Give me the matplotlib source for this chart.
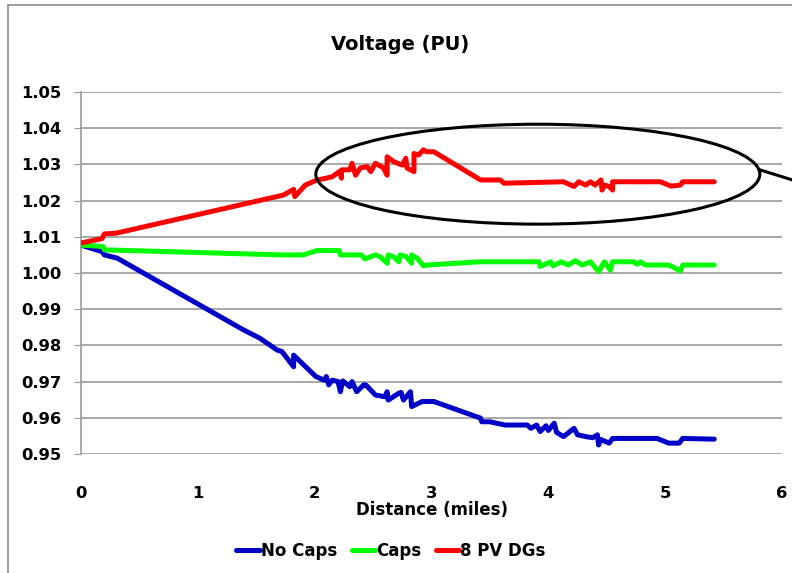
import matplotlib
matplotlib.use("Agg")
import matplotlib.pyplot as plt
from matplotlib.patches import Ellipse
from matplotlib.lines import Line2D

plt.rcParams['font.family'] = ['DejaVu Sans']
plt.rcParams['font.weight'] = 'bold'

# data (distance in miles, voltage in pu)
nocaps_x = [0, 0.18, 0.2, 0.31, 1.39, 1.53, 1.68, 1.72, 1.82, 1.82, 2.01, 2.08, 2.10, 2.12, 2.15,
            2.20, 2.22, 2.24, 2.30, 2.32, 2.36, 2.42, 2.44, 2.52, 2.60, 2.62, 2.63, 2.72, 2.74,
            2.76, 2.82, 2.83, 2.92, 3.02, 3.42, 3.43, 3.50, 3.63, 3.82, 3.85, 3.90, 3.93, 3.98,
            4.00, 4.05, 4.07, 4.13, 4.22, 4.25, 4.32, 4.38, 4.42, 4.43, 4.45, 4.52, 4.55, 4.93,
            5.03, 5.12, 5.15, 5.42]
nocaps_y = [1.0077, 1.0059, 1.0050, 1.0041, 0.9843, 0.9820, 0.9787, 0.9783, 0.9741, 0.9773, 0.9714,
            0.9704, 0.9714, 0.9691, 0.9704, 0.9700, 0.9672, 0.9702, 0.9686, 0.9700, 0.9672, 0.9691,
            0.9690, 0.9663, 0.9658, 0.9672, 0.9649, 0.9668, 0.9670, 0.9649, 0.9672, 0.9631, 0.9645,
            0.9645, 0.9599, 0.9589, 0.9589, 0.9580, 0.9580, 0.9571, 0.9580, 0.9562, 0.9578, 0.9565,
            0.9585, 0.9560, 0.9548, 0.9571, 0.9553, 0.9548, 0.9545, 0.9553, 0.9525, 0.9540, 0.9530,
            0.9543, 0.9543, 0.9530, 0.9530, 0.9543, 0.9541]

caps_x = [0, 0.19, 0.2, 1.71, 1.90, 2.02, 2.21, 2.22, 2.40, 2.43, 2.52, 2.56, 2.62, 2.63, 2.68,
          2.72, 2.73, 2.78, 2.83, 2.83, 2.88, 2.93, 2.96, 3.42, 3.92, 3.93, 4.02, 4.04, 4.11,
          4.17, 4.23, 4.29, 4.36, 4.43, 4.48, 4.53, 4.55, 4.73, 4.76, 4.79, 4.83, 5.03, 5.13,
          5.15, 5.42]
caps_y = [1.0077, 1.0073, 1.0064, 1.0050, 1.0050, 1.0062, 1.0062, 1.0050, 1.0050, 1.0039, 1.0050,
          1.0045, 1.0027, 1.0050, 1.0044, 1.0031, 1.0050, 1.0046, 1.0027, 1.0050, 1.0040, 1.0020,
          1.0022, 1.0031, 1.0031, 1.0018, 1.0031, 1.0020, 1.0031, 1.0022, 1.0034, 1.0022, 1.0031,
          1.0004, 1.0031, 1.0008, 1.0031, 1.0031, 1.0024, 1.0031, 1.0022, 1.0022, 1.0006, 1.0022,
          1.0022]

pv_x = [0, 0.18, 0.2, 0.3, 1.62, 1.73, 1.82, 1.83, 1.92, 2.02, 2.10, 2.15, 2.21, 2.23, 2.23, 2.30,
        2.32, 2.35, 2.39, 2.45, 2.48, 2.52, 2.59, 2.62, 2.62, 2.68, 2.75, 2.78, 2.79, 2.85, 2.85,
        2.89, 2.93, 2.96, 3.02, 3.42, 3.59, 3.62, 4.13, 4.22, 4.26, 4.32, 4.36, 4.40, 4.45, 4.46,
        4.48, 4.52, 4.55, 4.55, 4.96, 5.05, 5.13, 5.15, 5.42]
pv_y = [1.0083, 1.0095, 1.0108, 1.0110, 1.0207, 1.0215, 1.0231, 1.0211, 1.0243, 1.0257, 1.0262,
        1.0266, 1.0280, 1.0262, 1.0285, 1.0285, 1.0303, 1.0270, 1.0290, 1.0294, 1.0280, 1.0303,
        1.0290, 1.0270, 1.0321, 1.0307, 1.0298, 1.0317, 1.0290, 1.0280, 1.0330, 1.0326, 1.0340,
        1.0335, 1.0335, 1.0257, 1.0257, 1.0248, 1.0252, 1.0239, 1.0252, 1.0243, 1.0252, 1.0243,
        1.0257, 1.0229, 1.0243, 1.0239, 1.0229, 1.0252, 1.0252, 1.0240, 1.0243, 1.0252, 1.0252]

fig = plt.figure(figsize=(7.92, 5.73), dpi=100)
ax = fig.add_axes([81 / 792, 1 - 454 / 573, 701 / 792, 362 / 573])

lw = 3.6
ax.plot(nocaps_x, nocaps_y, color='#0000C8', lw=lw, solid_capstyle='round',
        solid_joinstyle='round', label='No Caps', zorder=3)
ax.plot(caps_x, caps_y, color='#00FF00', lw=lw, solid_capstyle='round',
        solid_joinstyle='round', label='Caps', zorder=3)
ax.plot(pv_x, pv_y, color='#FF0000', lw=lw, solid_capstyle='round',
        solid_joinstyle='round', label='8 PV DGs', zorder=3)

# annotation ellipse around the PV section
ax.add_patch(Ellipse((3.91, 1.0273), 3.80, 0.0276, fill=False, ec='black', lw=2.2, zorder=4))
ax.plot([5.81, 6.09], [1.0285, 1.0257], color='black', lw=2.2, clip_on=False, zorder=4)

ax.set_xlim(0, 6)
ax.set_ylim(0.95, 1.05)
ax.set_yticks([0.95 + 0.01 * i for i in range(11)])
ax.set_yticklabels([f'{0.95 + 0.01 * i:.2f}' for i in range(11)])
ax.set_xticks(range(7))
ax.grid(axis='y', color='#9a9a9a', lw=1.2, zorder=0)
for s in ['top', 'right', 'bottom']:
    ax.spines[s].set_visible(False)
ax.spines['left'].set_color('#9a9a9a')
ax.spines['left'].set_linewidth(1.2)
ax.spines['left'].set_bounds(0.95, 1.05)
ax.tick_params(axis='y', length=5, color='#9a9a9a', labelsize=11.8, pad=9)
ax.tick_params(axis='x', length=0, labelsize=11.8, pad=23)
for t in ax.get_xticklabels() + ax.get_yticklabels():
    t.set_fontweight('bold')

ax.set_xlabel('Distance (miles)', fontsize=12, fontweight='bold', labelpad=0)
fig.text(400 / 792, 1 - 45 / 573, 'Voltage (PU)', ha='center', va='center',
         fontsize=14, fontweight='bold')

leg = fig.legend(loc='center', bbox_to_anchor=(391 / 792, 1 - 551 / 573), ncol=3,
                 frameon=False, fontsize=12, handlelength=1.4, handletextpad=0.05,
                 columnspacing=0.9)
for txt in leg.get_texts():
    txt.set_fontweight('bold')

# outer chart border (top and left edges)
fig.add_artist(Line2D([8 / 792, 1], [1 - 5 / 573, 1 - 5 / 573], color='#8c8c8c', lw=1.2))
fig.add_artist(Line2D([8 / 792, 8 / 792], [0, 1 - 5 / 573], color='#8c8c8c', lw=1.2))

fig.savefig('out.png', dpi=100)
